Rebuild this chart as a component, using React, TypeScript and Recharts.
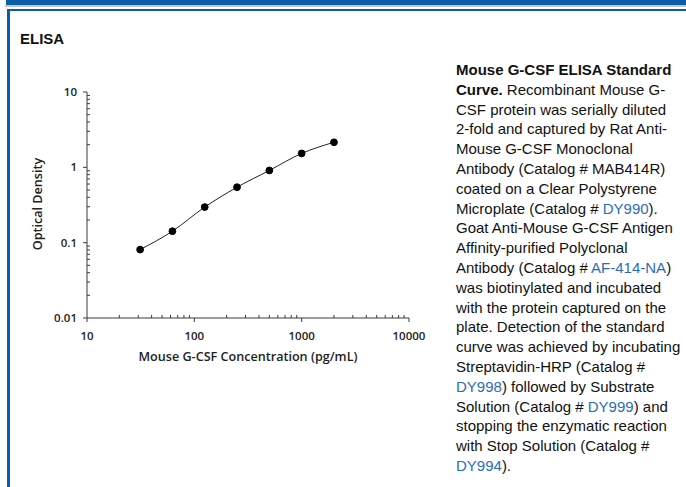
import React from "react";
import { ComposedChart, Line, XAxis, YAxis, Label } from "recharts";

const concentrations = [31.25, 62.5, 125, 250, 500, 1000, 2000];
const opticalDensity = [0.081, 0.142, 0.297, 0.545, 0.91, 1.53, 2.15];

const xTicks = [
  10, 20, 30, 40, 50, 60, 70, 80, 90,
  100, 200, 300, 400, 500, 600, 700, 800, 900,
  1000, 2000, 3000, 4000, 5000, 6000, 7000, 8000, 9000,
  10000,
];
const yTicks = [
  0.01, 0.02, 0.03, 0.04, 0.05, 0.06, 0.07, 0.08, 0.09,
  0.1, 0.2, 0.3, 0.4, 0.5, 0.6, 0.7, 0.8, 0.9,
  1, 2, 3, 4, 5, 6, 7, 8, 9,
  10,
];
const xMajorLabels = ["10", "100", "1000", "10000"];
const yMajorLabels = ["0.01", "0.1", "1", "10"];

const data = concentrations.map((c, i) => ({ conc: c, od: opticalDensity[i] }));

const isMajor = (v: number) => {
  const l = Math.log10(v);
  return Math.abs(l - Math.round(l)) < 1e-9;
};

const AXIS = "#3a3a3a";
const TICK_FONT = "'Open Sans', sans-serif";

const XTick = (props: any) => {
  const { x, y, payload } = props;
  const v = payload.value;
  const major = isMajor(v);
  const idx = Math.round(Math.log10(v)) - 1;
  return (
    <g>
      <line x1={x} x2={x} y1={y} y2={major ? y + 4 : y - 3} stroke={AXIS} strokeWidth={1} />
      {major && (
        <text x={x} y={y + 22} textAnchor="middle" fontFamily={TICK_FONT} fontWeight={600} fontSize={11.5} fill="#222">
          {xMajorLabels[idx]}
        </text>
      )}
    </g>
  );
};

const YTick = (props: any) => {
  const { x, y, payload } = props;
  const v = payload.value;
  const major = isMajor(v);
  const idx = Math.round(Math.log10(v)) + 2;
  return (
    <g>
      <line x1={x} x2={major ? x - 4 : x + 3} y1={y} y2={y} stroke={AXIS} strokeWidth={1} />
      {major && (
        <text x={x - 10} y={y + 4} textAnchor="end" fontFamily={TICK_FONT} fontWeight={600} fontSize={11.5} fill="#222">
          {yMajorLabels[idx]}
        </text>
      )}
    </g>
  );
};

const BLUE = "#0b5ea4";
const LINK = "#2a6db8";

const lines: React.ReactNode[] = [
  <b>Mouse G-CSF ELISA Standard</b>,
  <><b>Curve.</b> Recombinant Mouse G-</>,
  <>CSF protein was serially diluted</>,
  <>2-fold and captured by Rat Anti-</>,
  <>Mouse G-CSF Monoclonal</>,
  <>Antibody (Catalog # MAB414R)</>,
  <>coated on a Clear Polystyrene</>,
  <>Microplate (Catalog # <span style={{ color: LINK }}>DY990</span>).</>,
  <>Goat Anti-Mouse G-CSF Antigen</>,
  <>Affinity-purified Polyclonal</>,
  <>Antibody (Catalog # <span style={{ color: LINK }}>AF-414-NA</span>)</>,
  <>was biotinylated and incubated</>,
  <>with the protein captured on the</>,
  <>plate. Detection of the standard</>,
  <>curve was achieved by incubating</>,
  <>Streptavidin-HRP (Catalog #</>,
  <><span style={{ color: LINK }}>DY998</span>) followed by Substrate</>,
  <>Solution (Catalog # <span style={{ color: LINK }}>DY999</span>) and</>,
  <>stopping the enzymatic reaction</>,
  <>with Stop Solution (Catalog #</>,
  <><span style={{ color: LINK }}>DY994</span>).</>,
];

export default function App() {
  return (
    <div style={{ position: "absolute", left: 0, top: 0, width: 686, height: 487, background: "#fff", overflow: "hidden" }}>
      {/* frame */}
      <div style={{ position: "absolute", left: 6, top: 0, width: 680, height: 5, background: BLUE }} />
      <div style={{ position: "absolute", left: 5, top: 5, width: 681, height: 2, background: "#c4c4c4" }} />
      <div style={{ position: "absolute", left: 7, top: 9, width: 679, height: 2, background: BLUE }} />
      <div style={{ position: "absolute", left: 7, top: 9, width: 2.5, height: 478, background: BLUE }} />

      <div style={{ position: "absolute", left: 20, top: 30, fontFamily: "'Liberation Sans', Arial, sans-serif", fontWeight: 700, fontSize: 15, color: "#111" }}>
        ELISA
      </div>

      <div style={{ position: "absolute", left: 0, top: 0 }}>
        <ComposedChart width={440} height={380} data={data} margin={{ top: 92, right: 31, bottom: 22, left: 37 }}>
          <XAxis
            dataKey="conc"
            type="number"
            scale="log"
            domain={[10, 10000]}
            allowDataOverflow
            ticks={xTicks}
            interval={0}
            tickLine={false}
            tickSize={0}
            tickMargin={0}
            stroke={AXIS}
            height={40}
            tick={(p: any) => <XTick {...p} />}
          >
            <Label
              content={({ viewBox }: any) => (
                <text
                  x={viewBox.x + viewBox.width / 2}
                  y={viewBox.y + 43}
                  textAnchor="middle"
                  fontFamily={TICK_FONT}
                  fontWeight={600}
                  fontSize={12.6}
                  fill="#222"
                >
                  Mouse G-CSF Concentration (pg/mL)
                </text>
              )}
            />
          </XAxis>
          <YAxis
            dataKey="od"
            type="number"
            scale="log"
            domain={[0.01, 10]}
            allowDataOverflow
            ticks={yTicks}
            interval={0}
            tickLine={false}
            tickSize={0}
            tickMargin={0}
            stroke={AXIS}
            width={50}
            tick={(p: any) => <YTick {...p} />}
          >
            <Label
              content={({ viewBox }: any) => {
                const cx = viewBox.x + 5;
                const cy = viewBox.y + viewBox.height / 2 - 1;
                return (
                  <text
                    x={cx}
                    y={cy}
                    transform={`rotate(-90 ${cx} ${cy})`}
                    textAnchor="middle"
                    fontFamily={TICK_FONT}
                    fontWeight={600}
                    fontSize={12.6}
                    fill="#222"
                  >
                    Optical Density
                  </text>
                );
              }}
            />
          </YAxis>
          <Line
            dataKey="od"
            type="monotone"
            stroke="#222"
            strokeWidth={1}
            dot={{ r: 3.4, fill: "#000", stroke: "#000", strokeWidth: 1 }}
            isAnimationActive={false}
          />
        </ComposedChart>
      </div>

      <div
        style={{
          position: "absolute",
          left: 456,
          top: 60,
          fontFamily: "'Liberation Sans', Arial, sans-serif",
          fontSize: 15,
          lineHeight: "19.8px",
          color: "#111",
          whiteSpace: "nowrap",
        }}
      >
        {lines.map((l, i) => (
          <div key={i}>{l}</div>
        ))}
      </div>
    </div>
  );
}
